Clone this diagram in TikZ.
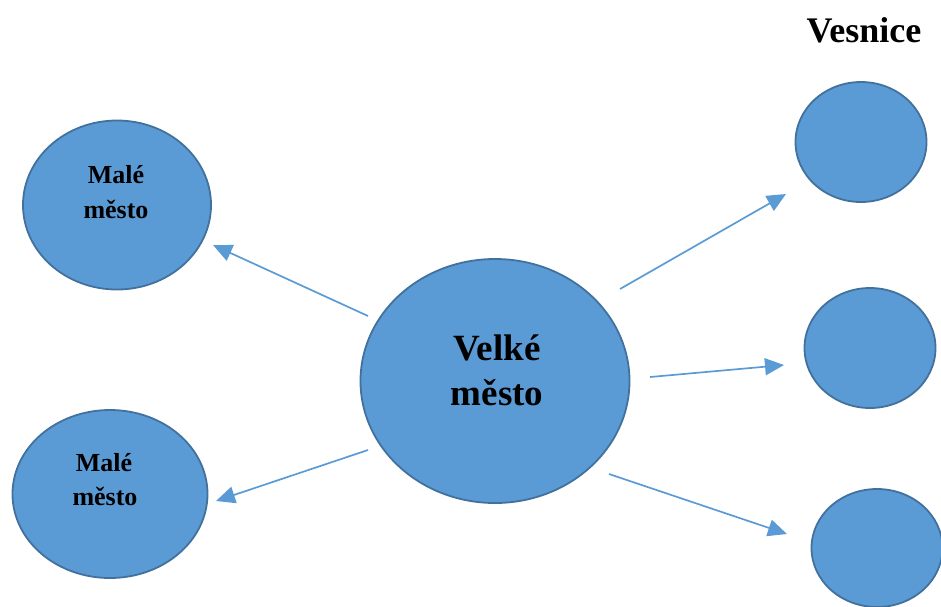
\documentclass[tikz,border=0pt]{standalone}
\usepackage{fontspec}
\setmainfont{Liberation Serif}
\usetikzlibrary{shapes.geometric,arrows.meta}
\definecolor{cfill}{HTML}{5B9BD5}
\definecolor{cedge}{HTML}{41719C}
\tikzset{
  town/.style={ellipse, fill=cfill, draw=cedge, line width=1.8pt, inner sep=0pt},
  lbl/.style={font=\bfseries, align=center, inner sep=0pt, text=black},
  link/.style={draw=cfill, line width=1.7pt, -{Triangle[length=19pt,width=17pt]}}
}
\begin{document}
\begin{tikzpicture}[x=1pt,y=-1pt]
\useasboundingbox (0,0) rectangle (941,606);
% ellipses
\node[town, minimum width=188pt, minimum height=169pt] (tl) at (117,205) {};
\node[town, minimum width=195pt, minimum height=168pt] (bl) at (110,494) {};
\node[town, minimum width=269pt, minimum height=244pt] (big) at (495,381) {};
\node[town, minimum width=131pt, minimum height=120pt] (v1) at (861,142) {};
\node[town, minimum width=131pt, minimum height=120pt] (v2) at (870,348) {};
\node[town, minimum width=131pt, minimum height=118pt] (v3) at (877,548) {};
% labels
\node[lbl, font=\fontsize{26}{35}\selectfont\bfseries, anchor=base] (tlt1) at (116,183) {Malé};
\node[lbl, font=\fontsize{26}{35}\selectfont\bfseries, anchor=base] (tlt2) at (116,218) {město};
\node[lbl, font=\fontsize{26}{35}\selectfont\bfseries, anchor=base] (blt1) at (104,471) {Malé};
\node[lbl, font=\fontsize{26}{35}\selectfont\bfseries, anchor=base] (blt2) at (105,505) {město};
\node[lbl, font=\fontsize{37}{45}\selectfont\bfseries, anchor=base] (bgt1) at (497,360) {Velké};
\node[lbl, font=\fontsize{37}{45}\selectfont\bfseries, anchor=base] (bgt2) at (497,405) {město};
\node[lbl, font=\fontsize{36}{40}\selectfont\bfseries, anchor=base] (ves) at (864,42) {Vesnice};
% arrow ends
\coordinate (s1) at (368,316); \coordinate (e1) at (213,245);
\coordinate (s2) at (368,450); \coordinate (e2) at (216,501);
\coordinate (s3) at (620,289); \coordinate (e3) at (786,194);
\coordinate (s4) at (650,377); \coordinate (e4) at (784,365);
\coordinate (s5) at (609,474); \coordinate (e5) at (787,534);
\draw[link] (s1) -- (e1);
\draw[link] (s2) -- (e2);
\draw[link] (s3) -- (e3);
\draw[link] (s4) -- (e4);
\draw[link] (s5) -- (e5);
\end{tikzpicture}
\end{document}
